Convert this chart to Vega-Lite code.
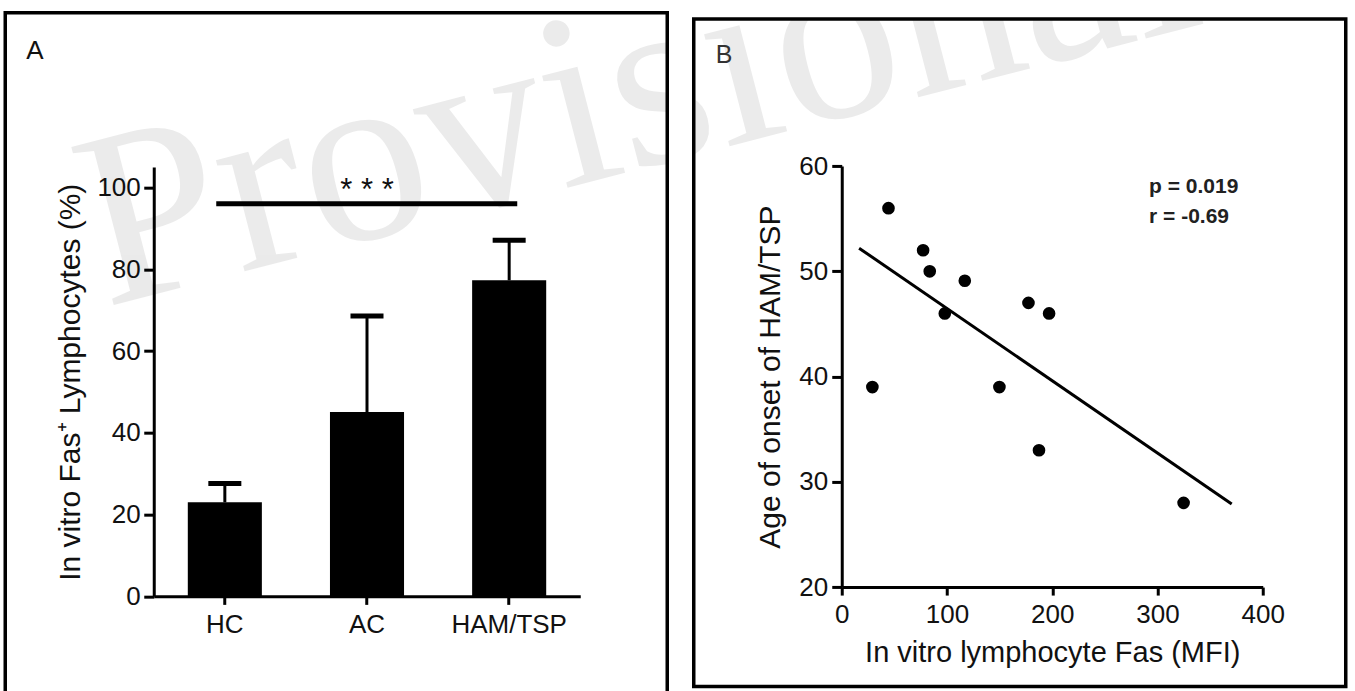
{
  "$schema": "https://vega.github.io/schema/vega-lite/v6.json",
  "background": "white",
  "padding": {"left": 3.25, "top": 10.55, "right": 0, "bottom": 0},
  "center": true,
  "spacing": 22.5,
  "config": {
    "view": {"stroke": "black", "strokeWidth": 3.5},
    "font": "Liberation Sans",
    "axis": {
      "grid": false,
      "domainColor": "black",
      "domainWidth": 3,
      "tickColor": "black",
      "tickWidth": 3,
      "labelFont": "Liberation Sans",
      "labelFontSize": 26,
      "labelColor": "#111111",
      "titleFont": "Liberation Sans",
      "titleFontSize": 30,
      "titleFontWeight": "normal",
      "titleColor": "#111111",
      "labelFlush": false,
      "labelOverlap": false
    }
  },
  "hconcat": [
    {
      "width": 662,
      "height": 680,
      "title": {"text": "A", "anchor": "start", "frame": "group", "orient": "top", "offset": -72, "dx": 21, "baseline": "alphabetic", "fontSize": 26, "fontWeight": "normal", "color": "#111111", "font": "Liberation Sans"},
      "layer": [
        {
          "data": {"values": [
            {"group": "HC", "mean": 23.0, "upper": 27.6},
            {"group": "AC", "mean": 45.1, "upper": 68.6},
            {"group": "HAM/TSP", "mean": 77.3, "upper": 87.1}
          ]},
          "layer": [
            {
              "mark": {"type": "bar", "color": "black"},
              "encoding": {
                "x": {"field": "group", "type": "nominal",
                  "scale": {"domain": ["HC", "AC", "HAM/TSP"], "range": [148.5, 575], "paddingInner": 0.479, "paddingOuter": 0.2395},
                  "axis": {"title": null, "offset": -96.3, "tickSize": 8, "labelPadding": 7.5, "labelAngle": 0}},
                "y": {"field": "mean", "type": "quantitative",
                  "scale": {"domain": [0, 105], "range": [583.7, 154.4], "nice": false, "zero": false},
                  "axis": {"title": "In vitro Fas⁺ Lymphocytes (%)", "offset": -148.5, "values": [0, 20, 40, 60, 80, 100], "tickSize": 10, "labelPadding": 3.5, "titlePadding": 11}}
              }
            },
            {
              "mark": {"type": "rule", "strokeWidth": 3, "color": "black"},
              "encoding": {
                "x": {"field": "group", "type": "nominal"},
                "y": {"field": "mean", "type": "quantitative"},
                "y2": {"field": "upper"}
              }
            },
            {
              "mark": {"type": "tick", "orient": "horizontal", "size": 33, "thickness": 5, "color": "black", "opacity": 1},
              "encoding": {
                "x": {"field": "group", "type": "nominal"},
                "y": {"field": "upper", "type": "quantitative"}
              }
            }
          ]
        },
        {
          "data": {"values": [{"from": "HC", "to": "HAM/TSP", "level": 96}]},
          "mark": {"type": "rule", "strokeWidth": 5, "color": "black"},
          "encoding": {
            "x": {"field": "from", "type": "nominal", "bandPosition": 0.384},
            "x2": {"field": "to", "bandPosition": 0.609},
            "y": {"field": "level", "type": "quantitative"}
          }
        },
        {
          "data": {"values": [{"group": "AC", "level": 96.9, "label": "* * *"}]},
          "mark": {"type": "text", "fontSize": 31, "baseline": "alphabetic", "align": "center", "color": "#111111", "font": "Liberation Sans"},
          "encoding": {
            "x": {"field": "group", "type": "nominal"},
            "y": {"field": "level", "type": "quantitative"},
            "text": {"field": "label"}
          }
        },
        {
          "data": {"values": [{"group": "HC", "level": 70.7, "label": "Provisional"}]},
          "mark": {"type": "text", "font": "Liberation Serif", "fontSize": 250, "angle": -14.5, "align": "left", "baseline": "alphabetic", "color": "black", "opacity": 0.08, "clip": true},
          "encoding": {
            "x": {"field": "group", "type": "nominal", "bandPosition": -1.1145},
            "y": {"field": "level", "type": "quantitative"},
            "text": {"field": "label"}
          }
        }
      ]
    },
    {
      "width": 652,
      "height": 667.5,
      "title": {"text": "B", "anchor": "start", "frame": "group", "orient": "top", "offset": -69.5, "dx": 22, "baseline": "alphabetic", "fontSize": 25, "fontWeight": "normal", "color": "#333333", "font": "Liberation Sans"},
      "layer": [
        {
          "data": {"values": [
            {"fas": 44.4, "age": 56.0},
            {"fas": 29.1, "age": 39.0},
            {"fas": 77.3, "age": 52.0},
            {"fas": 83.6, "age": 50.0},
            {"fas": 116.9, "age": 49.1},
            {"fas": 97.9, "age": 46.0},
            {"fas": 177.4, "age": 47.0},
            {"fas": 197.0, "age": 46.0},
            {"fas": 149.8, "age": 39.0},
            {"fas": 187.4, "age": 33.0},
            {"fas": 324.8, "age": 28.0}
          ]},
          "mark": {"type": "circle", "size": 160, "color": "black", "opacity": 1},
          "encoding": {
            "x": {"field": "fas", "type": "quantitative",
              "scale": {"domain": [0, 400], "range": [148, 569], "nice": false, "zero": false},
              "axis": {"title": "In vitro lymphocyte Fas (MFI)", "offset": -99.35, "values": [0, 100, 200, 300, 400], "tickSize": 8, "labelPadding": 6.5, "titlePadding": 10.5, "titleFontSize": 29}},
            "y": {"field": "age", "type": "quantitative",
              "scale": {"domain": [20, 60], "range": [568.15, 147.15], "nice": false, "zero": false},
              "axis": {"title": "Age of onset of HAM/TSP", "offset": -148, "values": [20, 30, 40, 50, 60], "tickSize": 10, "labelPadding": 4, "titlePadding": 13}}
          }
        },
        {
          "data": {"values": [{"fas": 16.5, "age": 52.2}, {"fas": 370.5, "age": 27.9}]},
          "mark": {"type": "line", "strokeWidth": 3, "color": "black"},
          "encoding": {
            "x": {"field": "fas", "type": "quantitative"},
            "y": {"field": "age", "type": "quantitative"}
          }
        },
        {
          "data": {"values": [
            {"fas": 292.0, "age": 57.97, "label": "p = 0.019"},
            {"fas": 292.0, "age": 55.15, "label": "r = -0.69"}
          ]},
          "mark": {"type": "text", "align": "left", "baseline": "middle", "fontSize": 21, "fontWeight": "bold", "color": "#222222", "font": "Liberation Sans"},
          "encoding": {
            "x": {"field": "fas", "type": "quantitative"},
            "y": {"field": "age", "type": "quantitative"},
            "text": {"field": "label"}
          }
        },
        {
          "data": {"values": [{"fas": -699.3, "age": 46.57, "label": "Provisional"}]},
          "mark": {"type": "text", "font": "Liberation Serif", "fontSize": 250, "angle": -14.5, "align": "left", "baseline": "alphabetic", "color": "black", "opacity": 0.08, "clip": true},
          "encoding": {
            "x": {"field": "fas", "type": "quantitative"},
            "y": {"field": "age", "type": "quantitative"},
            "text": {"field": "label"}
          }
        }
      ]
    }
  ]
}
